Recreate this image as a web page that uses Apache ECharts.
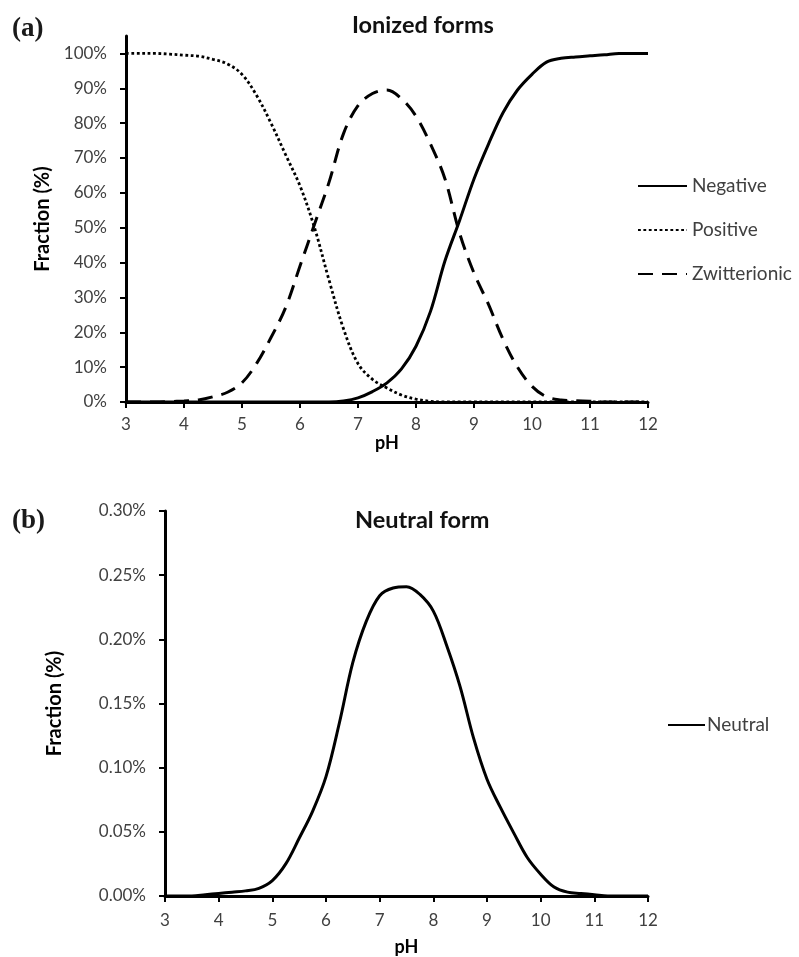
<!DOCTYPE html>
<html><head><meta charset="utf-8">
<script src="https://cdn.jsdelivr.net/npm/echarts@6/dist/echarts.min.js"></script>
<style>html,body{margin:0;padding:0;background:#fff}#c{width:799px;height:957px}</style>
</head><body><div id="c"></div>
<script>
// pH sample points
const pH = [3,3.25,3.5,3.75,4,4.25,4.5,4.75,5,5.25,5.5,5.75,6,6.25,6.5,6.75,7,7.25,7.5,7.75,8,8.25,8.5,8.75,9,9.25,9.5,9.75,10,10.25,10.5,10.75,11,11.25,11.5,11.75,12];
// (a) Ionized forms, fraction in %
const negative = [0,0,0,0,0,0,0,0,0,0,0,0,0,0,0,0.3,1.2,3,5.5,9.5,16,26,40.5,52,64,74,83,89.5,94,97.5,98.6,99,99.3,99.6,100,100,100];
const positive = [100,100,100,99.8,99.5,99.2,98.3,97,94,88,80,71,62,50,35,21,11,6.5,4,2,0.8,0.2,0,0,0,0,0,0,0,0,0,0,0,0,0,0,0];
const zwitterionic = [0,0,0,0.1,0.3,0.6,1.5,2.8,5.5,11,18.5,27,39,51,63,77,85,88.5,89.5,87,82,74,64,48.5,37,28,18,10,4.5,1.5,0.6,0.4,0.2,0,0,0,0];
// (b) Neutral form, fraction in %
const neutral = [0,0,0,0.001,0.002,0.003,0.004,0.006,0.012,0.025,0.045,0.066,0.093,0.135,0.182,0.214,0.234,0.240,0.241,0.235,0.222,0.195,0.163,0.123,0.091,0.069,0.049,0.030,0.017,0.007,0.003,0.002,0.001,0,0,0,0];
// tick values
const topYTicks = [0,10,20,30,40,50,60,70,80,90,100];
const bottomYTicks = [0,0.05,0.10,0.15,0.20,0.25,0.30];

const FONT = 'Lato';
const pts = arr => pH.map((x, i) => [x, arr[i]]);

const xAxisBase = (gridIndex, labelMargin, nameGap) => ({
  type: 'value', gridIndex, min: 3, max: 12, interval: 1,
  name: 'pH', nameLocation: 'middle', nameGap,
  nameTextStyle: {fontFamily: FONT, fontWeight: 'bold', fontSize: 18, color: '#000'},
  axisLine: {show: true, onZero: false, lineStyle: {color: '#000', width: 3}},
  axisTick: {show: true, inside: false, length: 6, lineStyle: {color: '#000', width: 2}},
  axisLabel: {fontFamily: FONT, fontSize: 17, color: '#404040', margin: labelMargin},
  splitLine: {show: false}
});

const chart = echarts.init(document.getElementById('c'), null, {renderer: 'canvas'});
chart.setOption({
  animation: false,
  backgroundColor: '#fff',
  title: [
    {text: '(a)', left: 12, top: 16, padding: 0, textStyle: {fontFamily: 'Liberation Serif', fontWeight: 'bold', fontSize: 27, color: '#1a1a1a'}},
    {text: 'Ionized forms', left: 352, top: 13, padding: 0, textStyle: {fontFamily: FONT, fontWeight: 'bold', fontSize: 23.5, color: '#111'}},
    {text: '(b)', left: 12, top: 508, padding: 0, textStyle: {fontFamily: 'Liberation Serif', fontWeight: 'bold', fontSize: 27, color: '#1a1a1a'}},
    {text: 'Neutral form', left: 355, top: 508, padding: 0, textStyle: {fontFamily: FONT, fontWeight: 'bold', fontSize: 23.5, color: '#111'}}
  ],
  legend: [
    {
      orient: 'vertical', left: 637, top: 176, padding: 0,
      itemWidth: 49, itemHeight: 12, itemGap: 24,
      data: ['Negative', 'Positive', 'Zwitterionic'],
      itemStyle: {opacity: 0},
      textStyle: {fontFamily: FONT, fontSize: 19, color: '#404040', lineHeight: 20, padding: [0, 0, 0, 0]}
    },
    {
      orient: 'vertical', left: 667, top: 715, padding: 0,
      itemWidth: 37, itemHeight: 12,
      data: ['Neutral'],
      itemStyle: {opacity: 0},
      textStyle: {fontFamily: FONT, fontSize: 19, color: '#404040', lineHeight: 20, padding: [0, 0, 0, -3]}
    }
  ],
  grid: [
    {left: 126, right: 151, top: 36, bottom: 555, containLabel: false},
    {left: 165, right: 151, top: 511, bottom: 59, containLabel: false}
  ],
  xAxis: [xAxisBase(0, 14, 25), xAxisBase(1, 16, 42)],
  yAxis: [
    {
      type: 'value', gridIndex: 0, min: 0, max: 105, interval: 10,
      name: 'Fraction (%)', nameLocation: 'middle', nameGap: 64, nameRotate: 90,
      nameTextStyle: {fontFamily: FONT, fontWeight: 'bold', fontSize: 20, color: '#000'},
      axisLine: {show: true, lineStyle: {color: '#000', width: 3}},
      axisTick: {show: true, inside: false, length: 6, customValues: topYTicks, lineStyle: {color: '#000', width: 2}},
      axisLabel: {fontFamily: FONT, fontSize: 17, color: '#404040', margin: 19, customValues: topYTicks, formatter: v => v + '%'},
      splitLine: {show: false}
    },
    {
      type: 'value', gridIndex: 1, min: 0, max: 0.30, interval: 0.05,
      name: 'Fraction (%)', nameLocation: 'middle', nameGap: 100, nameRotate: 90,
      nameTextStyle: {fontFamily: FONT, fontWeight: 'bold', fontSize: 20, color: '#000'},
      axisLine: {show: true, lineStyle: {color: '#000', width: 3}},
      axisTick: {show: true, inside: false, length: 6, customValues: bottomYTicks, lineStyle: {color: '#000', width: 2}},
      axisLabel: {fontFamily: FONT, fontSize: 17, color: '#404040', margin: 19, customValues: bottomYTicks, formatter: v => v.toFixed(2) + '%'},
      splitLine: {show: false}
    }
  ],
  series: [
    {name: 'Negative', type: 'line', xAxisIndex: 0, yAxisIndex: 0, data: pts(negative), smooth: 0.35, symbol: 'none',
     lineStyle: {color: '#000', width: 3, type: 'solid'}, itemStyle: {color: '#000'}},
    {name: 'Positive', type: 'line', xAxisIndex: 0, yAxisIndex: 0, data: pts(positive), smooth: 0.35, symbol: 'none',
     lineStyle: {color: '#000', width: 2.8, type: [2.8, 2.6]}, itemStyle: {color: '#000'}},
    {name: 'Zwitterionic', type: 'line', xAxisIndex: 0, yAxisIndex: 0, data: pts(zwitterionic), smooth: 0.35, symbol: 'none',
     lineStyle: {color: '#000', width: 3, type: [15, 9]}, itemStyle: {color: '#000'}},
    {name: 'Neutral', type: 'line', xAxisIndex: 1, yAxisIndex: 1, data: pts(neutral), smooth: 0.35, symbol: 'none',
     lineStyle: {color: '#000', width: 3, type: 'solid'}, itemStyle: {color: '#000'}}
  ]
});
</script>
</body></html>
